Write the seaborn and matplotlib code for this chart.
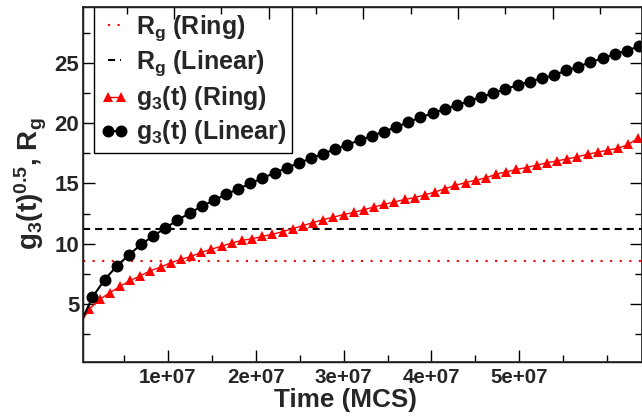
import numpy as np
import pandas as pd
import matplotlib
matplotlib.use("Agg")
import matplotlib.pyplot as plt
from matplotlib.ticker import MultipleLocator
import seaborn as sns

# Radius of gyration reference levels
rg_ring = 8.55
rg_linear = 11.25

# Time axis (MCS) for each chain; the first entry is the t=0 start of each run
t_ring = np.concatenate([[0.0], 1.08e6 + 1.157e6 * np.arange(55)])
t_linear = np.concatenate([[0.0], 1.42e6 + 1.382e6 * np.arange(46)])

# sqrt(g3(t)) for the ring polymer
g3_ring = [3.3,
           4.58, 5.36, 5.92, 6.44, 6.94, 7.33, 7.75, 8.05, 8.42, 8.69,
           8.94, 9.28, 9.53, 9.80, 10.05, 10.28, 10.40, 10.60, 10.78, 11.00,
           11.25, 11.50, 11.75, 12.00, 12.20, 12.42, 12.60, 12.83, 13.05, 13.27,
           13.47, 13.67, 13.83, 14.05, 14.30, 14.58, 14.84, 15.08, 15.28, 15.47,
           15.78, 15.97, 16.17, 16.33, 16.53, 16.72, 16.88, 17.05, 17.22, 17.44,
           17.60, 17.78, 17.93, 18.25, 18.80]

# sqrt(g3(t)) for the linear polymer
g3_linear = [3.3,
             5.55, 7.00, 8.13, 9.05, 9.94, 10.63, 11.30, 11.94, 12.55, 13.10,
             13.60, 14.10, 14.55, 15.00, 15.45, 15.88, 16.30, 16.70, 17.10, 17.48,
             17.86, 18.23, 18.60, 18.96, 19.32, 19.68, 20.10, 20.50, 20.83, 21.20,
             21.50, 21.86, 22.20, 22.50, 22.86, 23.17, 23.47, 23.75, 24.00, 24.40,
             24.70, 25.10, 25.40, 25.75, 26.05, 26.40]

x_ticks = [1e7, 2e7, 3e7, 4e7, 5e7]
x_tick_labels = ["1e+07", "2e+07", "3e+07", "4e+07", "5e+07"]

sns.set_theme(style="ticks")
plt.rcParams["font.family"] = ["Liberation Sans", "DejaVu Sans"]
plt.rcParams["font.weight"] = "bold"
plt.rcParams["mathtext.fontset"] = "custom"
plt.rcParams["mathtext.rm"] = "Liberation Sans:bold"
plt.rcParams["mathtext.it"] = "Liberation Sans:bold"
plt.rcParams["mathtext.bf"] = "Liberation Sans:bold"
plt.rcParams["mathtext.default"] = "rm"

fig = plt.figure(figsize=(6.42, 4.18), dpi=100)
ax = fig.add_axes([83.5 / 642, (418 - 361.5) / 418, 558 / 642, (361.5 - 6.7) / 418])

h1 = ax.axhline(rg_ring, color="#ff0000", lw=1.5, ls=(0, (1, 3.6)),
                label=r"R$_g$ (Ring)")
h2 = ax.axhline(rg_linear, color="black", lw=1.5, ls=(0, (3.4, 2.4)),
                label=r"R$_g$ (Linear)")

df_ring = pd.DataFrame({"t": t_ring, "g": g3_ring})
df_lin = pd.DataFrame({"t": t_linear, "g": g3_linear})

sns.lineplot(data=df_ring, x="t", y="g", ax=ax, color="#ff0000", lw=1.0,
             marker="^", markersize=7.8, markeredgewidth=0, legend=False,
             markevery=list(range(1, len(t_ring))))
sns.lineplot(data=df_lin, x="t", y="g", ax=ax, color="black", lw=1.5,
             marker="o", markersize=8.6, markeredgewidth=0, legend=False,
             markevery=list(range(1, len(t_linear))))

h3 = ax.lines[2]
h4 = ax.lines[3]

ax.set_xlim(4e5, 6.39e7)
ax.set_ylim(0.2, 29.7)
ax.set_xticks(x_ticks)
ax.set_xticklabels(x_tick_labels)
ax.xaxis.set_minor_locator(MultipleLocator(5e6))
ax.yaxis.set_major_locator(MultipleLocator(5))
ax.yaxis.set_minor_locator(MultipleLocator(2.5))
ax.set_yticks([5, 10, 15, 20, 25])

ax.tick_params(which="both", direction="in", right=True, top=False, color="black", width=1.0)
ax.tick_params(which="major", length=8.5)
ax.tick_params(which="minor", length=5)
ax.tick_params(axis="x", which="major", labelsize=14.8, pad=4.5)
ax.tick_params(axis="y", which="major", labelsize=16, pad=3)
for lab in ax.get_xticklabels() + ax.get_yticklabels():
    lab.set_fontweight("bold")
for s in ax.spines.values():
    s.set_color("black")
    s.set_linewidth(1.0)

# secondary top scale: ticks only
top = ax.twiny()
top.set_xlim(4.4e5, 5.94e7)
top.xaxis.set_major_locator(MultipleLocator(1e7))
top.xaxis.set_minor_locator(MultipleLocator(5e6))
top.tick_params(which="both", direction="in", labeltop=False, color="black", width=1.0)
top.tick_params(which="major", length=8.5)
top.tick_params(which="minor", length=5)
top.set_xticklabels([])

ax.set_xlabel("Time (MCS)", fontsize=18.8, fontweight="bold")
ax.xaxis.set_label_coords((345 - 83.5) / 558, -0.074)
ax.set_ylabel(r"g$_3$(t)$^{0.5}$, R$_g$", fontsize=20, fontweight="bold")
ax.yaxis.set_label_coords((49 - 83.5) / 558, 0.5)

leg = ax.legend([h1, h2, h3, h4],
                [r"R$_g$ (Ring)", r"R$_g$ (Linear)", r"g$_3$(t) (Ring)", r"g$_3$(t) (Linear)"],
                loc="upper left", bbox_to_anchor=((94.3 - 83.5) / 558, 1.0),
                borderaxespad=0, frameon=True, fancybox=False, shadow=False,
                numpoints=2, handlelength=1.1, handletextpad=0.3,
                labelspacing=0.24, borderpad=0.25,
                prop={"size": 18, "weight": "bold"})
leg.get_frame().set_edgecolor("black")
leg.get_frame().set_linewidth(1.0)
leg.get_frame().set_alpha(1)
for lh in leg.get_lines():
    lh.set_markevery(None)

fig.savefig("out.png", dpi=100)
